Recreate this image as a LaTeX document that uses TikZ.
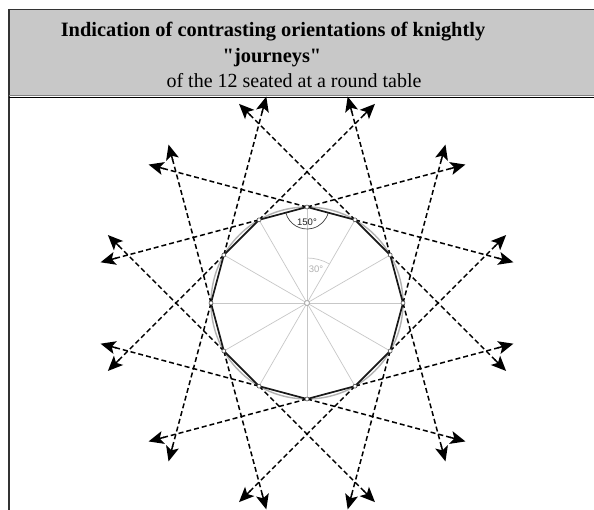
\documentclass[tikz,border=0pt]{standalone}
\usepackage{fontspec}
\setmainfont{Liberation Serif}[Ligatures=TeXOff]
\newfontfamily\labelfont{Liberation Sans}
\usetikzlibrary{arrows.meta,calc}
\definecolor{titlegray}{HTML}{C8C8C8}
\begin{document}
\begin{tikzpicture}[x=1pt,y=1pt,
  dashline/.style={line width=1.5pt, black, dash pattern=on 5pt off 3pt, shorten >=10pt},
  tipline/.style={solid, line width=1.5pt, black, -{Stealth[length=15pt,width=13pt,inset=3.5pt]}},
  polyedge/.style={line width=1.7pt, black!90, line join=round},
  spoke/.style={line width=0.7pt, black!22},
  rim/.style={line width=1.4pt, black!30},
  anglearc/.style={line width=0.7pt, black!75},
  vmark/.style={circle, draw=black!80, fill=white, line width=0.5pt, inner sep=0pt, minimum size=4pt},
  cmark/.style={circle, draw=black!35, fill=white, line width=0.8pt, inner sep=0pt, minimum size=5pt},
  titlebold/.style={font=\fontsize{20.4}{24}\selectfont\bfseries, anchor=base, inner sep=0pt},
  titleplain/.style={font=\fontsize{20}{24}\selectfont, anchor=base, inner sep=0pt},
  anglelabel/.style={font=\labelfont\fontsize{9.5}{11}\selectfont, inner sep=0pt}
]
\useasboundingbox (0,-510) rectangle (594,0);
\fill[white] (0,-510) rectangle (594,0);
\coordinate (c) at (307,-303);
\foreach \k in {0,...,11} {
  \coordinate (v\k) at ($(c)+(30*\k:96)$);
  \coordinate (ta\k) at ($(v\k)+(30*\k+75:164)$);
  \coordinate (tb\k) at ($(v\k)+(30*\k-75:164)$);
  \coordinate (sa\k) at ($(v\k)+(30*\k+75:148)$);
  \coordinate (sb\k) at ($(v\k)+(30*\k-75:148)$);
}
% rim and spokes
\draw[rim] (c) circle[radius=96];
\foreach \k in {0,...,11} \draw[spoke] (c) -- (v\k);
\draw[spoke] ($(c)+(90:45)$) arc[start angle=90,end angle=60,radius=45];
\node[anglelabel, text=black!30] (l30) at ($(c)+(9,34)$) {30°};
% knightly journeys
\foreach \k in {0,...,11} {
  \draw[dashline] (v\k) -- (ta\k);
  \draw[dashline] (v\k) -- (tb\k);
  \draw[tipline] (sa\k) -- (ta\k);
  \draw[tipline] (sb\k) -- (tb\k);
}
% dodecagon
\draw[polyedge] (v0) -- (v1) -- (v2) -- (v3) -- (v4) -- (v5) -- (v6) -- (v7) -- (v8) -- (v9) -- (v10) -- (v11) -- cycle;
\draw[anglearc] ($(v3)+(195:22)$) arc[start angle=195,end angle=345,radius=22];
\node[anglelabel, text=black!85] (l150) at ($(c)+(0,81)$) {150°};
\node[cmark] (cm) at (c) {};
\foreach \k in {0,...,11} \node[vmark] (m\k) at (v\k) {};
% title box
\fill[titlegray] (9,-10) rectangle (594,-96);
\draw[line width=1.3pt, black!80] (8.5,-9.7) -- (594,-9.7);
\draw[line width=1.3pt, black!80] (9,-9) -- (9,-510);
\draw[line width=1.5pt, black!50] (9,-95.3) -- (594,-95.3);
\draw[line width=0.6pt, black] (9,-96.9) -- (594,-96.9);
\node[titlebold] (t1) at (273,-37) {Indication of contrasting orientations of knightly};
\node[titlebold] (t2) at (272,-63) {"journeys"};
\node[titleplain] (t3) at (294,-88) {of the 12 seated at a round table};
\end{tikzpicture}
\end{document}
